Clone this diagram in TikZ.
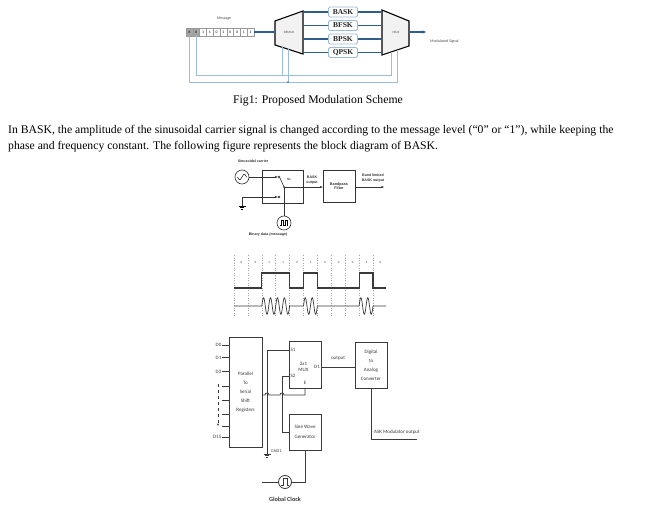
\documentclass[tikz,border=0pt]{standalone}
\usepackage{fontspec}
\setmainfont{Liberation Serif}
\newfontfamily\cfont{Carlito}
\newfontfamily\afont{Liberation Sans}
\usetikzlibrary{arrows.meta}
\definecolor{dblue}{HTML}{2E5F8A}
\definecolor{lblue}{HTML}{9DBBDA}
\definecolor{lgray}{HTML}{F2F2F2}
\definecolor{dgray}{HTML}{3A3A3A}
\definecolor{cellgray}{HTML}{A6A6A6}
\tikzset{
  cell/.style={draw=gray!80, line width=0.3pt, minimum width=6.8pt, minimum height=7.5pt, inner sep=0pt, font=\cfont\fontsize{3.8}{4}\selectfont},
  modbox/.style={draw=lblue, line width=0.8pt, rounded corners=1.5pt, fill=white, minimum width=29pt, minimum height=10pt, inner sep=0pt, font=\bfseries\fontsize{7.5}{8}\selectfont, text=black!85},
  muxshape/.style={draw=black, line width=1.1pt, fill=lgray},
  sig/.style={draw=dblue, line width=1.1pt},
  fb/.style={draw=lblue, line width=0.7pt},
  tiny/.style={inner sep=0pt, font=\cfont\fontsize{4}{4.5}\selectfont, text=black!70},
  alab/.style={inner sep=0pt, align=center, font=\afont\bfseries\fontsize{3.6}{4.3}\selectfont, text=black!80},
  ablk/.style={draw=black!80, line width=0.6pt, inner sep=0pt},
  aline/.style={draw=black!80, line width=0.6pt},
  arr/.style={-{Stealth[length=3pt,width=2.4pt]}},
  blk/.style={draw=dgray, line width=0.8pt, inner sep=0pt, align=center, font=\cfont\fontsize{5}{9}\selectfont, text=dgray},
  bline/.style={draw=dgray, line width=0.8pt},
  clab/.style={inner sep=0pt, font=\cfont\fontsize{5}{5.5}\selectfont, text=dgray},
  contact/.style={circle, draw=black!80, line width=0.5pt, minimum size=2.2pt, inner sep=0pt},
  gnd/.pic={\draw[line width=0.5pt] (-3.5,0)--(3.5,0) (-2.2,1.4)--(2.2,1.4) (-0.9,2.8)--(0.9,2.8);},
  para/.style={inner sep=0pt, anchor=base west, font=\fontsize{11.7}{13}\selectfont}
}
\begin{document}
\begin{tikzpicture}[x=1pt,y=-1pt]
\useasboundingbox (0,0) rectangle (657,514);
\fill[white] (0,0) rectangle (657,514);

% ================= Fig 1 =================
\node[tiny] (msg) at (224,19) {Message};
\foreach \b/\f [count=\i from 0] in {X/cellgray,X/cellgray,1/white,1/white,0/white,1/white,0/white,0/white,1/white,1/white}
  \node[cell, fill=\f] (c\i) at ({189.4+6.8*\i},32) {\b};

\draw[muxshape] (275,21) -- (303,11) -- (303,54) -- (275,45) -- cycle;
\node[tiny, font=\cfont\fontsize{3.3}{3.5}\selectfont] (demux) at (289,32) {DEMUX};
\draw[muxshape] (382,10) -- (409,21) -- (409,46) -- (382,55) -- cycle;
\node[tiny, font=\cfont\fontsize{3.3}{3.5}\selectfont] (mux) at (396,32) {MUX};
\coordinate (dmL) at (275,32);
\coordinate (dmR) at (303,0);
\coordinate (mxL) at (382,0);
\coordinate (mxR) at (409,32);
\coordinate (mout) at (426,32);

\draw[sig] (c9.east) -- (dmL);
\foreach \n/\t/\y in {bask/BASK/12, bfsk/BFSK/25.5, bpsk/BPSK/39, qpsk/QPSK/52.5}{
  \node[modbox] (\n) at (343,\y) {\t};
  \draw[sig] (\n.west -| dmR) -- (\n.west);
  \draw[sig] (\n.east) -- (\n.east -| mxL);
}
\draw[sig, -{Stealth[length=3.5pt,width=3pt]}] (mxR) -- (mout);
\node[tiny, anchor=west] (modsig) at (430,41) {Modulated Signal};

% feedback lines
\coordinate (fo) at (397,82);
\coordinate (fi) at (391,75);
\coordinate (mxo) at (397,50);
\coordinate (mxi) at (391,52);
\coordinate (dmo) at (288,49.2);
\coordinate (dmi) at (282,47.3);
\draw[fb] (c0.south) |- (fo) -- (mxo);
\draw[fb] (c1.south) |- (fi) -- (mxi);
\draw[fb] (dmi) -- (dmi |- fi);
\draw[fb] (dmo) -- (dmo |- fo);
\fill[dblue] (dmo |- fo) circle (0.9pt);

% caption and paragraph
\node[inner sep=0pt, font=\fontsize{11.7}{13}\selectfont] (cap) at (318,101) {Fig1: Proposed Modulation Scheme};
\node[para] (p1) at (8,133.5) {In BASK, the amplitude of the sinusoidal carrier signal is changed according to the message level (“0” or “1”), while keeping the};
\node[para] (p2) at (8,149.5) {phase and frequency constant. The following figure represents the block diagram of BASK.};

% ================= BASK block diagram =================
\node[alab] (sclab) at (253,161) {Sinusoidal carrier};
\node[circle, draw=black!80, line width=0.6pt, minimum size=14pt, inner sep=0pt] (carrier) at (242,177) {};
\draw[line width=0.5pt, domain=-4.5:4.5, samples=40] plot ({242+\x},{177-2.6*sin(40*\x)});
\node[ablk, minimum width=41pt, minimum height=33pt] (swbox) at (282.5,186.5) {};
\node[contact] (k1) at (279,177) {};
\node[contact] (k2) at (279,197) {};
\draw[aline, arr] (carrier.east) -- (k1.west);
\coordinate (g1) at (242,206);
\draw[aline, arr] (g1) |- (k2.west);
\pic at (g1) {gnd};
\coordinate (piv) at (284,187);
\draw[aline] (k1.south east) -- (piv);
\fill[black!80] (piv) circle (0.8pt);
\node[alab, font=\afont\bfseries\fontsize{3}{3.5}\selectfont] (s1lab) at (289,179.5) {S1};
\node[ablk, minimum width=32pt, minimum height=32pt, align=center, font=\afont\bfseries\fontsize{3.8}{4.6}\selectfont, text=black!80] (bpf) at (339,186) {Bandpass\\Filter};
\draw[aline, arr] (piv) -- (piv -| bpf.west);
\node[alab] (bolab) at (312,180) {BASK\\output};
\coordinate (bo) at (384,187);
\draw[aline, arr] (bo -| bpf.east) -- (bo);
\node[alab] (bllab) at (373,178) {Band limited\\BASK output};
\node[circle, draw=black!80, line width=0.6pt, minimum size=14pt, inner sep=0pt] (bin) at (284,223) {};
\draw[line width=0.5pt] (280,225) -- (281,225) -- (281,220.5) -- (283,220.5) -- (283,225) -- (285,225) -- (285,220.5) -- (287,220.5) -- (287,225) -- (288,225);
\draw[aline] (bin.north) -- (piv);
\node[alab] (bdlab) at (268,235) {Binary data (message)};

% ================= waveform =================
\foreach \i in {0,...,10}
  \draw[gray!70, line width=0.5pt, dotted] ({234+13.9*\i},255) -- ({234+13.9*\i},317);
\foreach \b [count=\i from 0] in {0,0,1,1,0,1,0,0,0,1,0}
  \node[tiny, font=\afont\fontsize{3}{3.5}\selectfont, text=black!70] (bit\i) at ({241.5+13.9*\i},262) {\b};
\draw[dgray, line width=1.1pt] (234,288) -- (261.8,288) -- (261.8,273) -- (289.6,273) -- (289.6,288) -- (303.5,288) -- (303.5,273) -- (317.4,273) -- (317.4,288) -- (359.1,288) -- (359.1,273) -- (373,273) -- (373,288) -- (386,288);
\draw[dgray, line width=0.7pt] (234,306) -- (261.8,306)
  -- plot[domain=261.8:289.6, samples=120] (\x,{306-8.3*sin(51.8*(\x-261.8))})
  -- (303.5,306)
  -- plot[domain=303.5:317.4, samples=60] (\x,{306-8.3*sin(51.8*(\x-303.5))})
  -- (359.1,306)
  -- plot[domain=359.1:373, samples=60] (\x,{306-8.3*sin(51.8*(\x-359.1))})
  -- (386,306);

% ================= ASK modulator =================
\node[blk, minimum width=33pt, minimum height=110pt] (psr) at (245.5,392) {Parallel\\To\\Serial\\Shift\\Registers};
\foreach \y in {345,357.7,371.7,386.7,400,414.3,426.7,437.3}
  \draw[bline] (229,\y) -- (222,\y);
\node[clab, anchor=east] (d0) at (221.5,345) {D0};
\node[clab, anchor=east] (d1) at (221.5,357.7) {D1};
\node[clab, anchor=east] (d2) at (221.5,371.7) {D2};
\node[clab, anchor=east] (d15) at (221.5,437.3) {D15};
\draw[dgray, line width=0.6pt, dashed, -{Stealth[length=2.5pt,width=2pt]}] (218,384) -- (218,426);

\node[blk, minimum width=32pt, minimum height=47pt] (mux2) at (305,364.5) {};
\node[clab, anchor=west] (s1t) at (290.5,350) {S1};
\node[clab, anchor=west] (s2t) at (290.5,376) {S2};
\node[clab, align=center, font=\cfont\fontsize{5}{6}\selectfont] (muxt) at (303.5,367) {2x1\\MUX};
\node[clab, anchor=east] (d1t) at (320,367) {D1};
\node[clab] (et) at (305,383) {E};

\coordinate (s1) at (267,350);
\coordinate (gnd1) at (267,454);
\draw[bline] (mux2.west |- s1) -- (s1) -- (gnd1);
\pic[dgray] at (gnd1) {gnd};
\node[clab, anchor=west, font=\cfont\fontsize{4.3}{4.5}\selectfont] (gndt) at (271,451) {GND1};

\node[blk, minimum width=32pt, minimum height=36pt, font=\cfont\fontsize{5}{10}\selectfont] (swg) at (305,432) {Sine Wave\\Generator};
\coordinate (s2) at (282,376);
\draw[bline] (mux2.west |- s2) -- (s2) -- (s2 |- swg.west) -- (swg.west);

\coordinate (ro) at (262,395);
\draw[bline] (ro) -- (265,395) arc[start angle=180, end angle=0, radius=2pt] -- (280,395) arc[start angle=180, end angle=0, radius=2pt] -- (mux2.south |- ro) -- (mux2.south);

\node[blk, minimum width=32pt, minimum height=46pt] (dac) at (371,365) {Digital\\to\\Analog\\Converter};
\coordinate (d1o) at (321,367);
\draw[bline] (d1o) -- (d1o -| dac.west);
\node[clab] (outt) at (338,358) {output};
\coordinate (askout) at (417,439);
\draw[bline] (dac.south) |- (askout);
\node[clab] (askt) at (397,432) {ASK Modulator output};

\node[circle, draw=dgray, line width=0.8pt, minimum size=13pt, inner sep=0pt] (clk) at (285,482) {};
\draw[dgray, line width=0.6pt] (281,485.5) -- (283,485.5) -- (283,478.5) -- (287,478.5) -- (287,485.5) -- (289,485.5);
\draw[bline] (swg.south) |- (clk.east);
\coordinate (clkin) at (262,482);
\draw[bline] (clkin) -- (clk.west);
\node[inner sep=0pt, font=\cfont\bfseries\fontsize{6.2}{7}\selectfont, text=dgray] (gclk) at (285,499) {Global Clock};
\end{tikzpicture}
\end{document}
